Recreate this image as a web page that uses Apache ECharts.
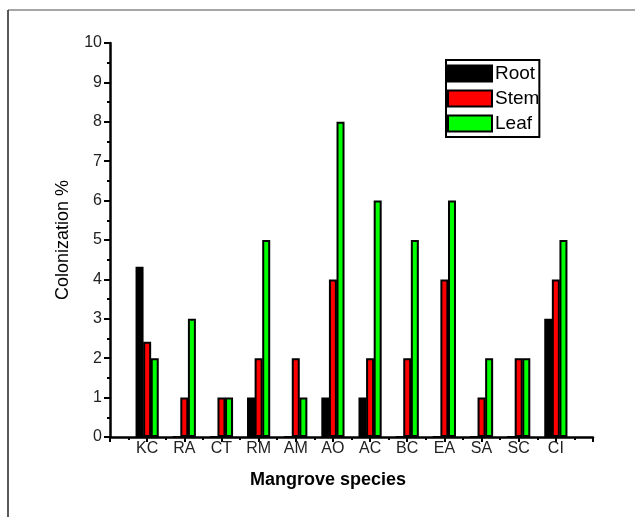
<!DOCTYPE html>
<html>
<head>
<meta charset="utf-8">
<script src="https://cdn.jsdelivr.net/npm/echarts@6/dist/echarts.min.js"></script>
<style>html,body{margin:0;padding:0;background:#fff}#c{width:635px;height:517px}</style>
</head>
<body>
<div id="c"></div>
<script>
const categories = ['KC','RA','CT','RM','AM','AO','AC','BC','EA','SA','SC','CI'];
const rootValues = [4.32, 0, 0, 1, 0, 1, 1, 0, 0, 0, 0, 3];
const stemValues = [2.42, 1, 1, 2, 2, 4, 2, 2, 4, 1, 2, 4];
const leafValues = [2, 3, 1, 5, 1, 8, 6, 5, 6, 2, 2, 5];
const seriesNames = ['Root', 'Stem', 'Leaf'];
const yTicks = [0,1,2,3,4,5,6,7,8,9,10];

const font = 'Liberation Sans, Arial, sans-serif';
function pairs(vals){ return vals.map((v,i)=>[i+1, v]); }

const chart = echarts.init(document.getElementById('c'));
const colors = ['#000000', '#ff0000', '#00ff00'];
const allVals = [rootValues, stemValues, leafValues];

chart.setOption({
  animation: false,
  grid: { left: 110, right: 42, top: 43, bottom: 80 },
  graphic: [
    { type: 'line', shape: { x1: 8, y1: 10, x2: 635, y2: 10 }, style: { stroke: '#888', lineWidth: 1.5 } },
    { type: 'line', shape: { x1: 8, y1: 10, x2: 8, y2: 517 }, style: { stroke: '#222', lineWidth: 1.5 } },
    { type: 'text', left: 250, top: 471, style: { text: 'Mangrove species', font: 'bold 18px ' + font, fill: '#000' } }
  ],
  legend: {
    left: 446, top: 60, orient: 'vertical',
    itemWidth: 44, itemHeight: 16, itemGap: 6,
    padding: [4, 0, 4, 1],
    borderColor: '#000', borderWidth: 2,
    icon: 'rect',
    textStyle: { fontFamily: font, fontSize: 19, color: '#000', padding: [0,0,0,-2] },
    data: seriesNames
  },
  xAxis: {
    type: 'value', min: 0, max: 13, interval: 1,
    axisLine: { lineStyle: { color: '#000', width: 2.5 } },
    axisTick: { show: true, length: 5, lineStyle: { color: '#000', width: 2 } },
    minorTick: { show: true, splitNumber: 2, length: 3, lineStyle: { color: '#000', width: 2 } },
    splitLine: { show: false },
    axisLabel: {
      fontFamily: font, fontSize: 16, color: '#222', margin: 4,
      formatter: v => (v >= 1 && v <= categories.length) ? categories[v - 1] : ''
    }
  },
  yAxis: {
    type: 'value', min: yTicks[0], max: yTicks[yTicks.length-1], interval: 1,
    name: 'Colonization %', nameLocation: 'middle', nameGap: 38,
    nameTextStyle: { fontFamily: font, fontSize: 18, color: '#000' },
    axisLine: { show: true, lineStyle: { color: '#000', width: 2.5 } },
    axisTick: { show: true, length: 6, lineStyle: { color: '#000', width: 2 } },
    minorTick: { show: true, splitNumber: 2, length: 3, lineStyle: { color: '#000', width: 2 } },
    splitLine: { show: false },
    axisLabel: { fontFamily: font, fontSize: 16, color: '#222', margin: 8 }
  },
  series: seriesNames.map((n, k) => ({
    name: n, type: 'bar',
    data: pairs(allVals[k]),
    barWidth: 8, barGap: '-5%',
    itemStyle: { color: colors[k], borderColor: '#000', borderWidth: 2 }
  }))
});
</script>
</body>
</html>
